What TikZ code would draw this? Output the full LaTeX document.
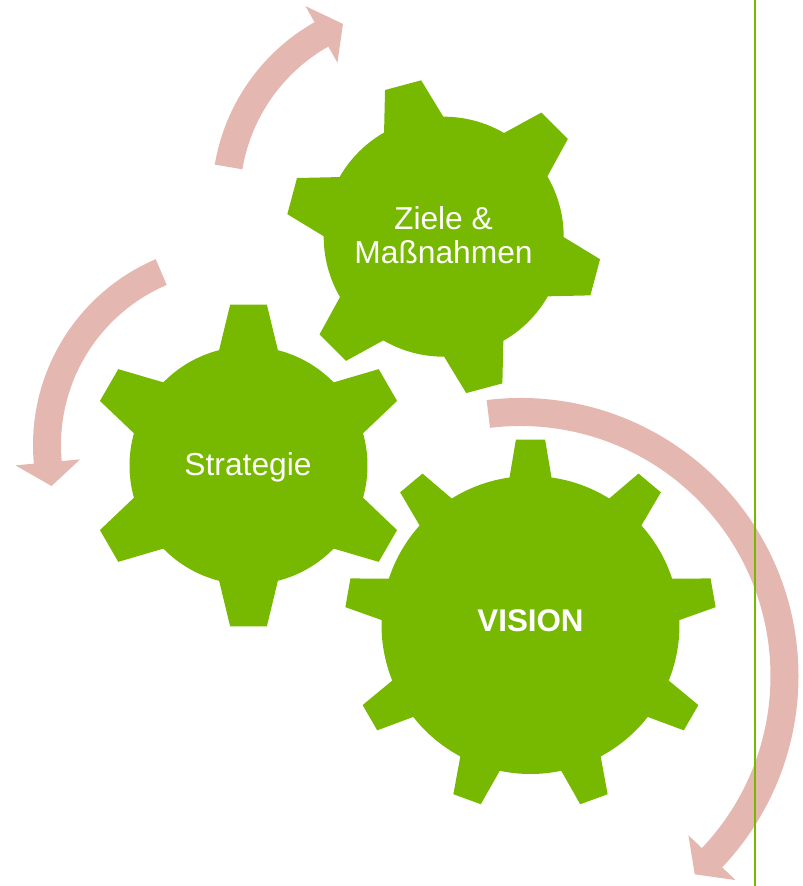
\documentclass[tikz,border=0pt]{standalone}
\usepackage{fontspec}
\setmainfont{Liberation Sans}
\usepackage{tikz}
\usetikzlibrary{positioning}

\definecolor{geargreen}{RGB}{118,185,0}
\definecolor{arrowpink}{RGB}{229,183,177}

\begin{document}
\begin{tikzpicture}[x=0.75pt, y=0.75pt,
  gear/.style={fill=geargreen},
  cyclearrow/.style={fill=arrowpink},
  gearlabel/.style={text=white, inner sep=0pt, align=center, font=\fontsize{23.8}{25.5}\selectfont}]

\useasboundingbox (0,0) rectangle (803,886);

\def \zielebody{120}   % body radius of the Ziele gear
\def \zieletip{158}    % tooth radius of the Ziele gear
\def \smallbody{119}   % body radius of the Strategie gear
\def \smalltip{162}    % tooth radius of the Strategie gear
\def \bigbody{149}     % body radius of the big gear
\def \bigtip{186}      % tooth radius of the big gear

% gear Ziele & Massnahmen (6 teeth)
\fill[gear, shift={(443.7,649.3)}] (90.2:\zielebody)
  \foreach \a in {105,165,...,405} {
    -- (\a-14.8:\zielebody) -- (\a-6.8:\zieletip) -- (\a+6.8:\zieletip) -- (\a+14.8:\zielebody)
    arc[start angle=\a+14.8, end angle=\a+45.2, radius=\zielebody]
  } -- cycle;

% gear Strategie (6 teeth)
\fill[gear, shift={(248.5,420.5)}] (15.7:\smallbody)
  \foreach \a in {30,90,...,330} {
    -- (\a-14.3:\smallbody) -- (\a-6.5:\smalltip) -- (\a+6.5:\smalltip) -- (\a+14.3:\smallbody)
    arc[start angle=\a+14.3, end angle=\a+45.7, radius=\smallbody]
  } -- cycle;

% gear VISION (9 teeth)
\fill[gear, shift={(530.5,261)}] (1.9:\bigbody)
  \foreach \a in {10,50,...,330} {
    -- (\a-8.1:\bigbody) -- (\a-4.5:\bigtip) -- (\a+4.5:\bigtip) -- (\a+8.1:\bigbody)
    arc[start angle=\a+8.1, end angle=\a+31.9, radius=\bigbody]
  } -- cycle;

% texts
\node[gearlabel] (ziele) at (443.5,651) {Ziele \&\\Maßnahmen};
\node[gearlabel, anchor=base] (strategie) at (248,410) {Strategie};
\node[gearlabel, anchor=base, font=\bfseries\fontsize{23.5}{25}\selectfont] (vision) at (530.5,254.3) {VISION};

% arrow top, turning right
\begin{scope}[shift={(414,688)}]
\fill[cyclearrow] (170.5:202) arc[start angle=170.5, end angle=119.5, radius=202]
  -- (119.5:220.5) -- (112.2:188) -- (119.5:155.5) -- (119.5:174)
  arc[start angle=119.5, end angle=170.5, radius=174] -- cycle;
\end{scope}

% arrow left, turning down
\begin{scope}[shift={(235,441)}]
\fill[cyclearrow] (113.1:202) arc[start angle=113.1, end angle=185.3, radius=202]
  -- (185.3:220.5) -- (192.6:188) -- (185.3:155.5) -- (185.3:174)
  arc[start angle=185.3, end angle=113.1, radius=174] -- cycle;
\end{scope}

% arrow right, round the big gear
\begin{scope}[shift={(520.5,210)}]
\fill[cyclearrow] (97:278) arc[start angle=97, end angle=-43.5, radius=278]
  -- (-43.5:296.5) -- (-48.7:264) -- (-43.5:231.5) -- (-43.5:250)
  arc[start angle=-43.5, end angle=97, radius=250] -- cycle;
\end{scope}

% vertical line
\draw[geargreen, line width=1.5pt] (755,0) -- (755,886);

\end{tikzpicture}
\end{document}
